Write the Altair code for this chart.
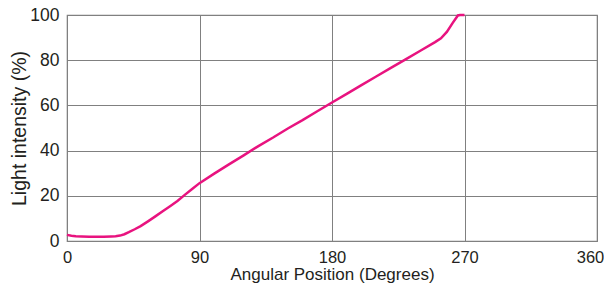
import altair as alt
import pandas as pd

angles = [0, 3, 6, 10, 15, 20, 25, 30, 33, 36, 39, 42, 46, 50, 55, 60, 65, 70, 75, 80, 85, 90,
          100, 110, 120, 130, 140, 150, 160, 170, 180, 190, 200, 210, 220, 230, 240, 250,
          254, 258, 262, 265.5, 267, 270]
intensity = [2.7, 2.3, 2.1, 2.0, 1.9, 1.9, 1.9, 2.0, 2.1, 2.4, 3.0, 3.9, 5.2, 6.6, 8.7, 10.9,
             13.2, 15.4, 17.7, 20.4, 23.0, 25.6, 29.8, 33.9, 37.9, 42.0, 45.8, 49.8, 53.5,
             57.4, 61.3, 65.1, 69.0, 72.8, 76.6, 80.4, 84.2, 88.0, 89.7, 92.5, 96.5, 99.8,
             100, 100]
x_ticks = [0, 90, 180, 270, 360]
y_ticks = [0, 20, 40, 60, 80, 100]

df = pd.DataFrame({"angle": angles, "intensity": intensity})

FONT = "Liberation Sans"
GRID = "#808080"
TXT = "#231f20"

chart = alt.Chart(df).mark_line(color="#E8137F", strokeWidth=2.5).encode(
    x=alt.X("angle:Q", scale=alt.Scale(domain=[0, 360], nice=False),
            axis=alt.Axis(values=x_ticks, title="Angular Position (Degrees)",
                          grid=True, gridColor=GRID, gridOpacity=1, gridWidth=1,
                          ticks=False, domain=False, labelPadding=8,
                          labelFontSize=16.5, labelColor=TXT, labelFont=FONT,
                          labelOffset=alt.expr("datum.value == 360 ? -7 : 0"),
                          titleFontSize=17, titleFontWeight="normal", titleFont=FONT,
                          titleColor=TXT, titleBaseline="alphabetic", titleY=38.5,
                          labelFlush=False)),
    y=alt.Y("intensity:Q", scale=alt.Scale(domain=[0, 100], nice=False),
            axis=alt.Axis(values=y_ticks, title="Light intensity (%)",
                          grid=True, gridColor=GRID, gridOpacity=1, gridWidth=1,
                          ticks=False, domain=False, labelPadding=8,
                          labelFontSize=17.5, labelColor=TXT, labelFont=FONT,
                          titleFontSize=19.5, titleFontWeight="normal", titleFont=FONT,
                          titleColor=TXT, titlePadding=0, labelFlush=False)),
).properties(
    width=530, height=226,
    title=alt.TitleParams("Light Intensity Projection", fontSize=19.5, font=FONT,
                          fontWeight="normal", color=TXT, anchor="middle",
                          baseline="alphabetic", offset=8),
    autosize=alt.AutoSizeParams(type="none"),
    padding={"left": 59, "top": 7, "right": 7, "bottom": 42},
).configure_view(stroke=GRID, strokeWidth=1.2)

chart.save("out.html", embed_options={"renderer": "svg", "actions": False})
